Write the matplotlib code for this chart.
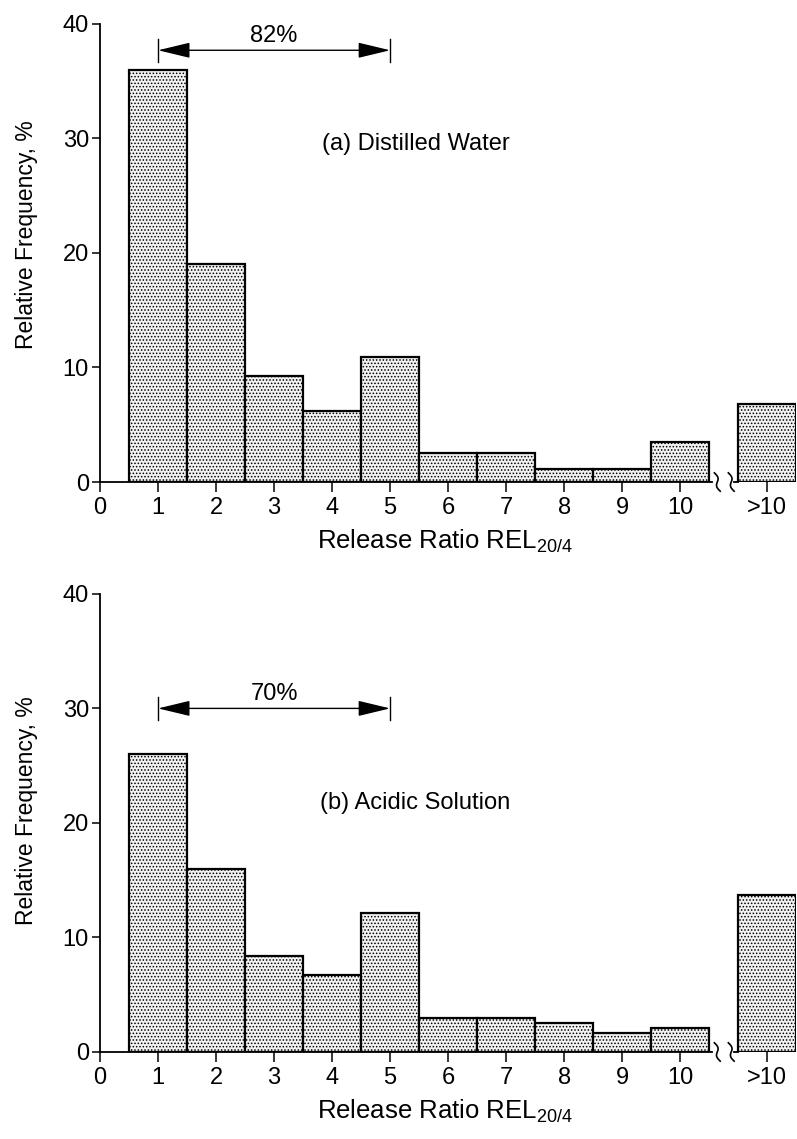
import numpy as np
import matplotlib
matplotlib.use('Agg')
import matplotlib.pyplot as plt

# bins 1..10 plus the ">10" bin
bins = [1, 2, 3, 4, 5, 6, 7, 8, 9, 10]
tick_labels = ['0', '1', '2', '3', '4', '5', '6', '7', '8', '9', '10', '>10']
water = [36, 19, 9.3, 6.2, 10.9, 2.5, 2.5, 1.1, 1.1, 3.5]
water_over10 = 6.8
acid = [26, 16, 8.4, 6.7, 12.1, 3.0, 3.0, 2.5, 1.7, 2.1]
acid_over10 = 13.7

panels = [
    ('(a) Distilled Water', water, water_over10, '82%', 37.7, (3.83, 29.5), 0.54),
    ('(b) Acidic Solution', acid, acid_over10, '70%', 30.0, (3.8, 21.7), 0.526),
]

plt.rcParams['font.family'] = ['Liberation Sans', 'DejaVu Sans']
plt.rcParams['mathtext.default'] = 'regular'
plt.rcParams['hatch.linewidth'] = 0.7
fs = 17

fig = plt.figure(figsize=(7.97, 11.39), dpi=100)
rects = [[0.1255, 0.5768, 0.8735, 0.4022], [0.1255, 0.0764, 0.8735, 0.4022]]

for rect, (title, vals, over, pct, ya, tpos, ylab_y) in zip(rects, panels):
    ax = fig.add_axes(rect)
    ax.bar(bins, vals, width=1.0, facecolor='#f2f2f2', edgecolor='black',
           hatch='.....', linewidth=1.6)
    ax.bar([11.5], [over], width=1.0, facecolor='#f2f2f2', edgecolor='black',
           hatch='.....', linewidth=1.6)
    ax.set_xlim(0, 12)
    ax.set_ylim(0, 40)
    for s in ['top', 'right']:
        ax.spines[s].set_visible(False)
    ax.spines['left'].set_linewidth(1.3)
    ax.spines['bottom'].set_linewidth(1.3)
    ax.spines['bottom'].set_bounds(0, 10.55)
    ax.plot([10.92, 11.0], [0, 0], color='black', lw=1.3, clip_on=False)
    # axis break squiggles
    t = np.linspace(-1, 1, 30)
    for xc in [10.64, 10.88]:
        ax.plot(xc + 0.035 * np.sin(np.pi * t) - 0.05 * t, 0.8 * t,
                color='black', lw=1.2, clip_on=False, zorder=5)

    ax.set_yticks([0, 10, 20, 30, 40])
    ax.set_xticks(list(range(0, 11)) + [11.5])
    ax.set_xticklabels(tick_labels)
    ax.tick_params(axis='both', labelsize=fs, direction='out', width=1.1)
    ax.tick_params(axis='y', length=6, pad=2)
    ax.tick_params(axis='x', length=7, pad=4)

    ax.set_ylabel('Relative Frequency, %', fontsize=16.5)
    ax.yaxis.set_label_coords(-0.089, ylab_y)
    ax.set_xlabel('Release Ratio REL$_{20/4}$', fontsize=18.5)
    ax.xaxis.set_label_coords(0.496, -0.1)

    ax.text(tpos[0], tpos[1], title, fontsize=fs, ha='left', va='center')

    # bracket arrow spanning bins 1..5
    ax.annotate('', xy=(1, ya), xytext=(5, ya),
                arrowprops=dict(arrowstyle='<|-|>,head_length=1.0,head_width=0.24',
                                color='black', lw=1.0,
                                mutation_scale=20, shrinkA=0, shrinkB=0))
    ax.plot([1, 1], [ya - 1.0, ya + 1.0], color='black', lw=1.0)
    ax.plot([5, 5], [ya - 1.0, ya + 1.0], color='black', lw=1.0)
    ax.text(3, ya + 0.3, pct, fontsize=fs, ha='center', va='bottom')

fig.savefig('out.png', dpi=100)
